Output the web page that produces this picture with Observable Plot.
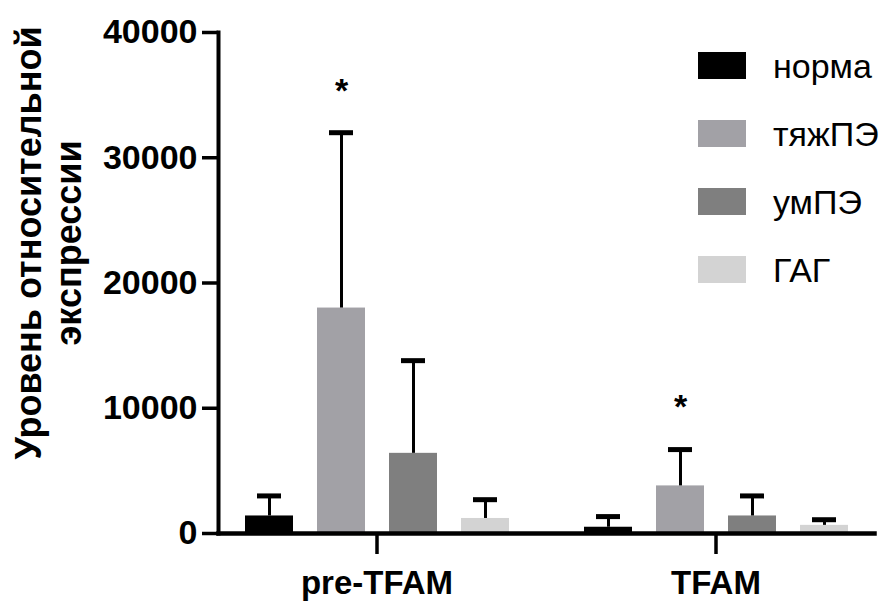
<!DOCTYPE html>
<html>
<head>
<meta charset="utf-8">
<script src="https://cdn.jsdelivr.net/npm/d3@7"></script>
<script src="https://cdn.jsdelivr.net/npm/@observablehq/plot@0.6"></script>
<style>
  html, body { margin: 0; padding: 0; background: #fff; }
  #wrap { position: relative; width: 883px; height: 601px; overflow: hidden; font-family: "Liberation Sans", Arial, sans-serif; }
  #ylabel { position: absolute; width: 520px; height: 80px; left: -211px; top: 203px;
    transform: rotate(-90deg); transform-origin: 50% 50%; text-align: center;
    font-size: 36px; line-height: 40px; font-weight: bold; color: #000; white-space: nowrap; }
  #legend { position: absolute; left: 698px; top: 31px; }
  .item { display: flex; align-items: center; height: 68px; }
  .sw { width: 48px; height: 27px; margin-right: 27px; }
  .lab { font-size: 34px; color: #000; position: relative; top: 1px; }
</style>
</head>
<body>
<div id="wrap">
  <div id="chart"></div>
  <div id="ylabel">Уровень относительной<br>экспрессии</div>
  <div id="legend"></div>
</div>
<script>
const groups = ["pre-TFAM", "TFAM"];
const series = ["норма", "тяжПЭ", "умПЭ", "ГАГ"];
const colors = ["#000000", "#a2a1a6", "#7f7f7f", "#d3d3d3"];
const meanPre = [1400, 18000, 6400, 1200];
const sdPre = [1600, 14000, 7400, 1500];
const meanTFAM = [500, 3800, 1400, 650];
const sdTFAM = [850, 2900, 1600, 450];
const sigPre = [false, true, false, false];
const sigTFAM = [false, true, false, false];
const yTicks = [0, 10000, 20000, 30000, 40000];

const table = [];
series.forEach((s, i) => table.push({group: groups[0], series: s, mean: meanPre[i], sd: sdPre[i], sig: sigPre[i]}));
series.forEach((s, i) => table.push({group: groups[1], series: s, mean: meanTFAM[i], sd: sdTFAM[i], sig: sigTFAM[i]}));
const upper = d => d.mean + d.sd;

const chart = Plot.plot({
  width: 883,
  height: 601,
  marginLeft: 218,
  marginRight: 8,
  marginTop: 32,
  marginBottom: 68,
  style: {fontFamily: "Liberation Sans, Arial, sans-serif", fontSize: "34px", fontWeight: "bold", color: "#000", background: "#fff", overflow: "visible"},
  fx: {domain: groups, paddingInner: 0.0648, paddingOuter: 0, label: null},
  x: {domain: series, paddingInner: 0.336, paddingOuter: 0.364, axis: null},
  y: {domain: [0, 40000], label: null},
  color: {domain: series, range: colors},
  marks: [
    Plot.barY(table, {fx: "group", x: "series", y: "mean", fill: "series"}),
    Plot.ruleX(table, {fx: "group", x: "series", y1: "mean", y2: upper, stroke: "#000", strokeWidth: 3}),
    Plot.tickY(table, {fx: "group", x: "series", y: upper, stroke: "#000", strokeWidth: 5, insetLeft: 12, insetRight: 12}),
    Plot.text(table.filter(d => d.sig), {fx: "group", x: "series", y: upper, text: () => "*", dy: -42, fontSize: 34, fill: "#000"}),
    Plot.frame({anchor: "left", facet: "super", stroke: "#000", strokeWidth: 4}),
    Plot.frame({anchor: "bottom", facet: "super", stroke: "#000", strokeWidth: 4.5}),
    Plot.axisY({ticks: yTicks, tickSize: 16, tickPadding: 5, strokeWidth: 3.5, tickFormat: d => String(d), label: null}),
    Plot.axisFx({anchor: "bottom", tickSize: 21, tickPadding: 16, strokeWidth: 3.5, fontSize: 33, label: null})
  ]
});
document.getElementById("chart").appendChild(chart);

const legend = document.getElementById("legend");
series.forEach((s, i) => {
  const item = document.createElement("div");
  item.className = "item";
  const sw = document.createElement("div");
  sw.className = "sw";
  sw.style.background = colors[i];
  const lab = document.createElement("span");
  lab.className = "lab";
  lab.textContent = s;
  item.appendChild(sw);
  item.appendChild(lab);
  legend.appendChild(item);
});
</script>
</body>
</html>
